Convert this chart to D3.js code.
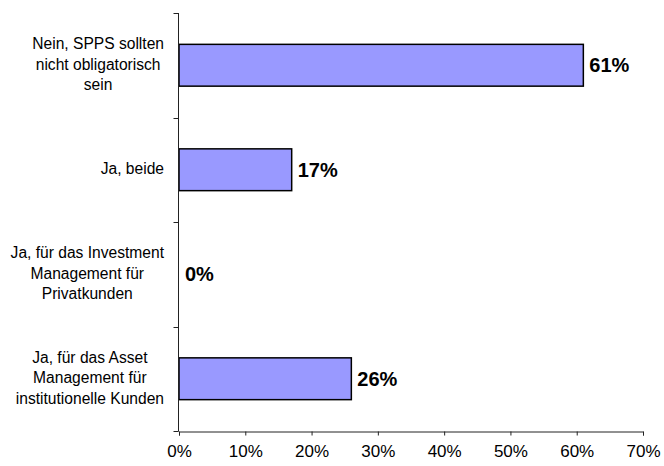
<!DOCTYPE html>
<html>
<head>
<meta charset="utf-8">
<script src="https://cdn.jsdelivr.net/npm/d3@7"></script>
<style>
  html, body { margin: 0; padding: 0; background: #fff; }
  svg { display: block; font-family: "Liberation Sans", Arial, sans-serif; }
</style>
</head>
<body>
<svg id="chart" width="664" height="466"></svg>
<script>
// Survey answers (one line per array entry) and their shares
const categories = [
  ["Nein, SPPS sollten", "nicht obligatorisch", "sein"],
  ["Ja, beide"],
  ["Ja, für das Investment", "Management für", "Privatkunden"],
  ["Ja, für das Asset", "Management für", "institutionelle Kunden"]
];
const values = [0.61, 0.17, 0.0, 0.26];
const xTicks = [0, 0.1, 0.2, 0.3, 0.4, 0.5, 0.6, 0.7];

const svg = d3.select("#chart");
const plotLeft = 179, plotRight = 643, plotTop = 13, plotBottom = 431;

const x = d3.scaleLinear().domain([0, 0.7]).range([plotLeft, plotRight]);
const y = d3.scaleBand()
  .domain(d3.range(categories.length))
  .range([plotTop, plotBottom])
  .paddingInner(0.6)
  .paddingOuter(0.3);

// Bars
svg.append("g")
  .selectAll("rect")
  .data(values)
  .join("rect")
  .attr("x", x(0))
  .attr("y", (d, i) => y(i))
  .attr("width", d => x(d) - x(0))
  .attr("height", y.bandwidth())
  .attr("fill", "#9999ff")
  .attr("stroke", d => d > 0 ? "#000" : "none")
  .attr("stroke-width", 1.5);

// Value labels
svg.append("g")
  .selectAll("text")
  .data(values)
  .join("text")
  .attr("x", d => x(d) + 6)
  .attr("y", (d, i) => y(i) + y.bandwidth() / 2)
  .attr("dy", "0.36em")
  .attr("font-size", 20)
  .attr("font-weight", "bold")
  .attr("fill", "#000")
  .text(d => d3.format(".0%")(d));

// X axis
const xAxis = d3.axisBottom(x)
  .tickValues(xTicks)
  .tickFormat(d3.format(".0%"))
  .tickSize(4)
  .tickSizeOuter(4);
const gx = svg.append("g")
  .attr("transform", `translate(0,${plotBottom + 0.5})`)
  .call(xAxis);
gx.selectAll("path, line").attr("stroke", "#222");
gx.selectAll("text")
  .attr("font-size", 17)
  .attr("font-family", "Liberation Sans, Arial, sans-serif")
  .attr("fill", "#000")
  .attr("dy", "1.1em");

// Y axis: line with ticks at the band boundaries
const gy = svg.append("g").attr("transform", `translate(${plotLeft - 0.5},0)`);
const boundaries = d3.range(categories.length + 1).map(i => plotTop + i * y.step());
gy.append("line")
  .attr("x1", 0).attr("x2", 0)
  .attr("y1", plotTop).attr("y2", plotBottom + 0.5)
  .attr("stroke", "#222");
gy.selectAll("line.tick")
  .data(boundaries)
  .join("line")
  .attr("class", "tick")
  .attr("x1", -5).attr("x2", 0)
  .attr("y1", d => Math.round(d) + 0.5)
  .attr("y2", d => Math.round(d) + 0.5)
  .attr("stroke", "#222");

// Category labels, centred as a block whose widest line ends near the axis
const labelRight = 164;
const lineH = 20.5;
const catG = svg.append("g");
categories.forEach((lines, i) => {
  const cy = y(i) + y.bandwidth() / 2;
  const t = catG.append("text")
    .attr("font-size", 15.6)
    .attr("fill", "#000")
    .attr("text-anchor", "middle");
  lines.forEach((ln, j) => {
    t.append("tspan")
      .attr("y", cy + (j - (lines.length - 1) / 2) * lineH - 1)
      .attr("dy", "0.35em")
      .text(ln);
  });
  let maxW = 0;
  t.selectAll("tspan").each(function () {
    maxW = Math.max(maxW, this.getComputedTextLength());
  });
  t.selectAll("tspan").attr("x", labelRight - maxW / 2);
});
</script>
</body>
</html>
